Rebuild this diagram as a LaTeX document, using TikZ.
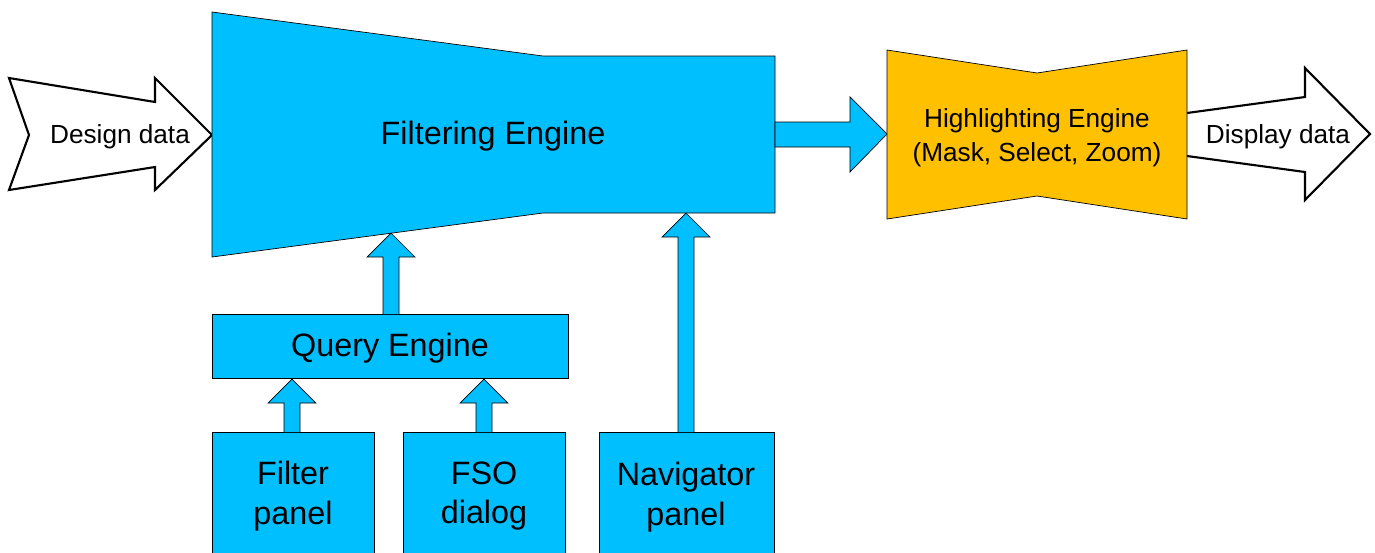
\documentclass[tikz,border=0pt]{standalone}
\usepackage{fontspec}
\setmainfont{Liberation Sans}
\usepackage{tikz}
\definecolor{engineBlue}{RGB}{0, 191, 255}
\definecolor{engineGold}{RGB}{255, 192, 0}

% feed arrow pointing up: centre x, tip y, foot y
\newcommand{\feedarrow}[3]{%
  \filldraw[blk] (#1-8,#3) -- (#1-8,#2+24) -- (#1-24,#2+24) -- (#1,#2)
    -- (#1+24,#2+24) -- (#1+8,#2+24) -- (#1+8,#3);}

\begin{document}
\begin{tikzpicture}[x=0.02cm, y=-0.02cm,
    blk/.style={fill=engineBlue, draw=black, line width=0.4pt},
    flow/.style={fill=white, draw=black, line width=1.2pt, line join=miter},
    lbl/.style={font=\fontsize{18.4}{22.7}\selectfont, align=center},
    small/.style={font=\fontsize{14.9}{19.3}\selectfont, align=center}]
  \useasboundingbox (0,0) rectangle (1375,552);

  % input and output data arrows
  \filldraw[flow] (9,78) -- (155,102) -- (155,78) -- (212,135) -- (155,190)
    -- (155,167) -- (9,190) -- (29,135) -- cycle;
  \node[small] (design) at (120,137) {Design data};
  \filldraw[flow] (1150,118) -- (1305,97) -- (1305,68) -- (1370,134)
    -- (1305,200) -- (1305,172) -- (1150,151) -- cycle;
  \node[small] (display) at (1278,137) {Display data};

  % filtering engine
  \filldraw[blk] (212,12) -- (543,56) -- (775,56) -- (775,213) -- (543,213)
    -- (212,257) -- cycle;
  \node[lbl] (filtering) at (493,136) {Filtering Engine};

  % filtering -> highlighting
  \filldraw[blk] (775,122) -- (850,122) -- (850,97) -- (887,134) -- (850,172)
    -- (850,147) -- (775,147) -- cycle;

  % highlighting engine
  \filldraw[blk, fill=engineGold] (887,50) -- (1037,73) -- (1187,50)
    -- (1187,219) -- (1037,196) -- (887,219) -- cycle;
  \node[small] (highlight) at (1037,138) {Highlighting Engine\\(Mask, Select, Zoom)};

  % query engine and panels
  \filldraw[blk] (212,314) rectangle (568,378);
  \node[lbl] (query) at (390,348) {Query Engine};
  \filldraw[blk] (212,558) -- (212,432) -- (374,432) -- (374,558);
  \node[lbl] (filterpanel) at (293,496) {Filter\\panel};
  \filldraw[blk] (403,558) -- (403,432) -- (565,432) -- (565,558);
  \node[lbl] (fso) at (484,496) {FSO\\dialog};
  \filldraw[blk] (599,558) -- (599,432) -- (774,432) -- (774,558);
  \node[lbl] (navigator) at (686,497) {Navigator\\panel};

  \feedarrow{391}{233}{314}
  \feedarrow{292}{379}{432}
  \feedarrow{484}{379}{432}
  \feedarrow{686}{213}{432}
\end{tikzpicture}
\end{document}
